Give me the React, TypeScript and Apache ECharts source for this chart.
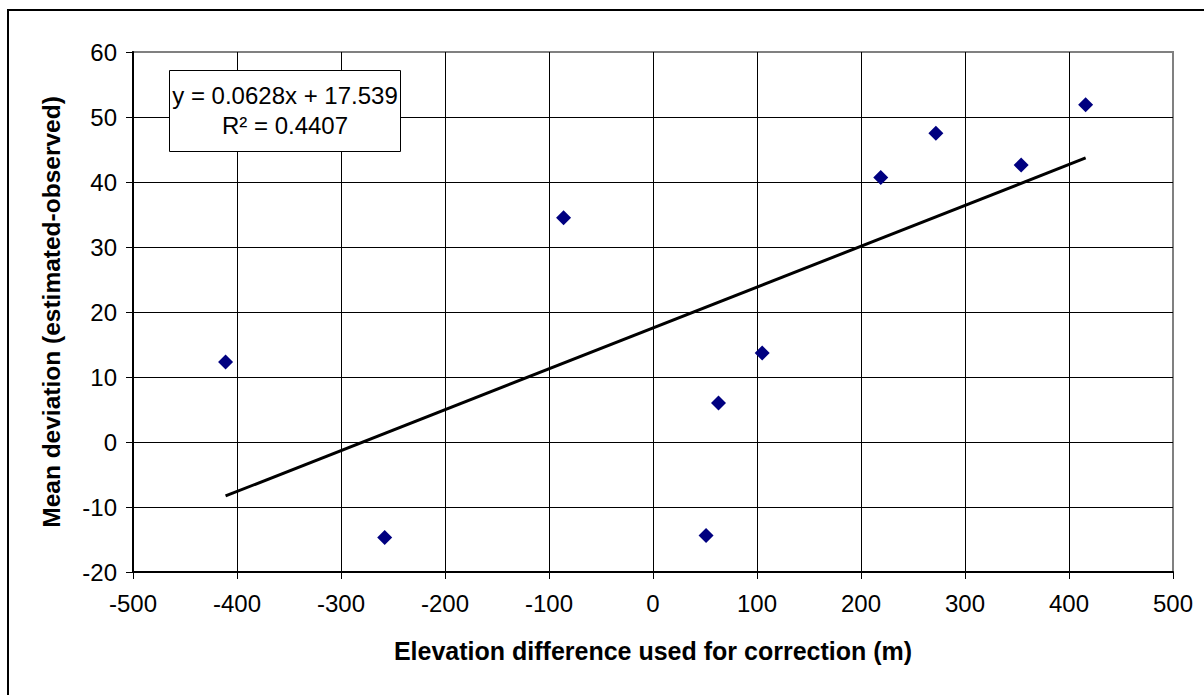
import React, { useEffect, useRef } from "react";
import * as echarts from "echarts";

const xValues = [-411, -258, -86, 51, 63, 105, 219, 272, 354, 416];
const yValues = [12.3, -14.7, 34.5, -14.4, 6.0, 13.7, 40.7, 47.5, 42.6, 51.9];
const trendX = [-411, 416];
const trendY = [-8.3, 43.7];
const equationText = "y = 0.0628x + 17.539";
const r2Text = "R² = 0.4407";
const xTitle = "Elevation difference used for correction (m)";
const yTitle = "Mean deviation (estimated-observed)";

const FONT = '"Liberation Sans", Arial, sans-serif';

export default function App() {
  const ref = useRef<HTMLDivElement>(null);
  useEffect(() => {
    if (!ref.current) return;
    const chart = echarts.init(ref.current, undefined, { renderer: "svg" });
    const points = xValues.map((x, i) => [x, yValues[i]]);
    const trend = trendX.map((x, i) => [x, trendY[i]]);
    chart.setOption({
      animation: false,
      backgroundColor: "#ffffff",
      textStyle: { fontFamily: FONT },
      grid: {
        left: 133,
        top: 52,
        width: 1040,
        height: 520,
        show: true,
        borderColor: "#808080",
        borderWidth: 2,
        backgroundColor: "#ffffff",
      },
      xAxis: {
        type: "value",
        min: -500,
        max: 500,
        interval: 100,
        name: xTitle,
        nameLocation: "middle",
        nameGap: 66,
        nameTextStyle: { fontSize: 25, fontWeight: "bold", color: "#000", fontFamily: FONT },
        axisLine: { show: true, onZero: false, lineStyle: { color: "#000", width: 2 } },
        axisTick: { show: true, inside: false, length: 7, lineStyle: { color: "#000", width: 1 } },
        axisLabel: { fontSize: 24, color: "#000", margin: 19, fontFamily: FONT },
        splitLine: { show: true, showMinLine: false, showMaxLine: false, lineStyle: { color: "#000", width: 1 } },
      },
      yAxis: {
        type: "value",
        min: -20,
        max: 60,
        interval: 10,
        name: yTitle,
        nameLocation: "middle",
        nameGap: 69,
        nameRotate: 90,
        nameTextStyle: { fontSize: 24.5, fontWeight: "bold", color: "#000", fontFamily: FONT },
        axisLine: { show: true, onZero: false, lineStyle: { color: "#000", width: 2 } },
        axisTick: { show: true, inside: false, length: 7, lineStyle: { color: "#000", width: 1 } },
        axisLabel: { fontSize: 24, color: "#000", margin: 16, fontFamily: FONT },
        splitLine: { show: true, showMinLine: false, showMaxLine: false, lineStyle: { color: "#000", width: 1 } },
      },
      series: [
        {
          type: "line",
          data: trend,
          showSymbol: false,
          symbol: "none",
          lineStyle: { color: "#000", width: 3 },
          z: 3,
        },
        {
          type: "scatter",
          data: points,
          symbol: "diamond",
          symbolSize: 15,
          itemStyle: { color: "#000080", opacity: 1 },
          z: 4,
        },
      ],
      graphic: [
        {
          type: "rect",
          shape: { x: 8, y: 10, width: 1220, height: 720 },
          style: { fill: "none", stroke: "#000", lineWidth: 2 },
          silent: true,
          z: 100,
        },
        {
          type: "rect",
          shape: { x: 169.5, y: 70.5, width: 231, height: 81 },
          style: { fill: "#ffffff", stroke: "#000", lineWidth: 1 },
          z: 100,
        },
        {
          type: "text",
          x: 285,
          y: 95,
          style: {
            text: equationText,
            fontSize: 24,
            fontFamily: FONT,
            fill: "#000",
            align: "center",
            verticalAlign: "middle",
          },
          z: 101,
        },
        {
          type: "text",
          x: 285,
          y: 125,
          style: {
            text: r2Text,
            fontSize: 24,
            fontFamily: FONT,
            fill: "#000",
            align: "center",
            verticalAlign: "middle",
          },
          z: 101,
        },
      ],
    });
    return () => chart.dispose();
  }, []);
  return (
    <div
      ref={ref}
      style={{ position: "absolute", left: 0, top: 0, width: 1204, height: 695 }}
    />
  );
}
